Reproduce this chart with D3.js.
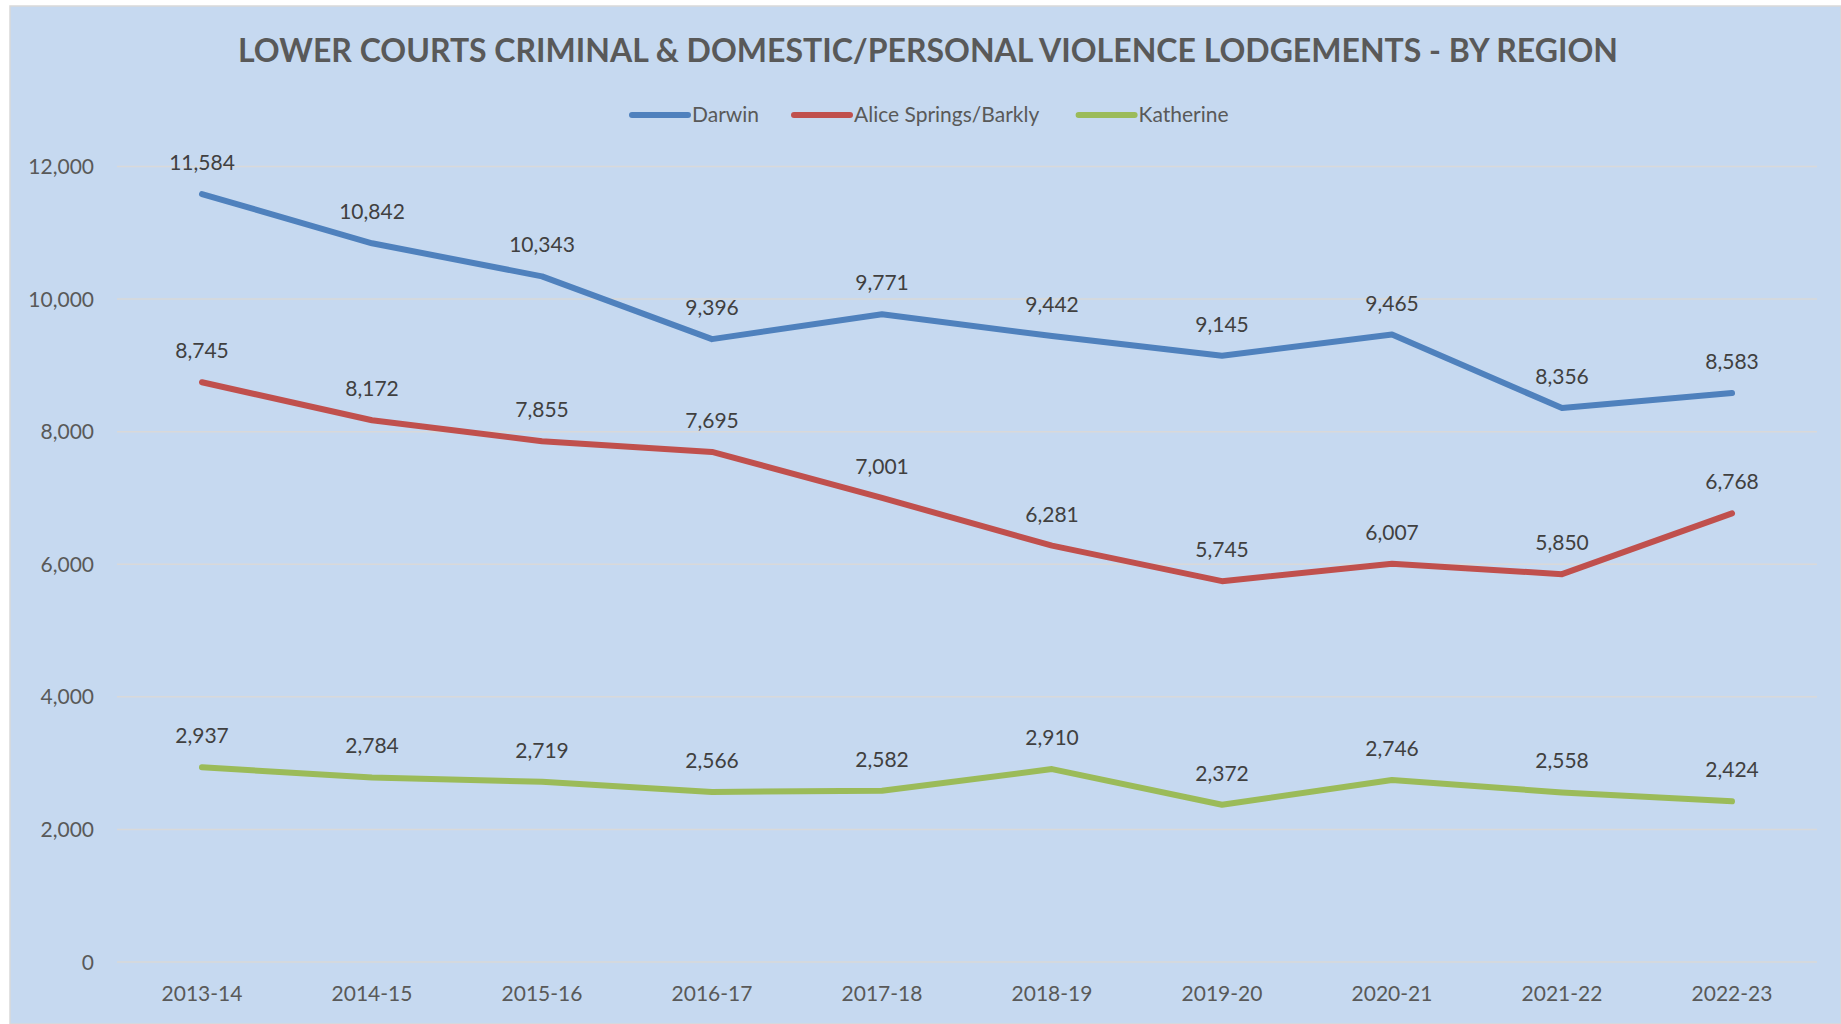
<!DOCTYPE html>
<html lang="en">
<head>
<meta charset="UTF-8">
<title>Lower courts lodgements by region</title>
<script src="https://d3js.org/d3.v7.min.js"></script>
<style>
body { margin: 0; background: #ffffff; }
text { font-family: Lato, "Open Sans", sans-serif; }
.grid line { stroke: #d9d9d9; stroke-width: 1.5px; }
.ylab, .xlab { font-size: 21px; fill: #595959; }
.dlab { font-size: 21px; fill: #404040; text-anchor: middle; }
.line { fill: none; stroke-width: 6px; stroke-linecap: round; stroke-linejoin: round; }
</style>
</head>
<body>
<div id="chart"></div>
<script>
// data
var years = ["2013-14","2014-15","2015-16","2016-17","2017-18","2018-19","2019-20","2020-21","2021-22","2022-23"];
var darwin = [11584,10842,10343,9396,9771,9442,9145,9465,8356,8583];
var alice = [8745,8172,7855,7695,7001,6281,5745,6007,5850,6768];
var katherine = [2937,2784,2719,2566,2582,2910,2372,2746,2558,2424];
var seriesNames = ["Darwin","Alice Springs/Barkly","Katherine"];
var yTicks = [0,2000,4000,6000,8000,10000,12000];

var colors = ["#4f81bd","#c0504d","#9bbb59"];
var width = 1841, height = 1024;

var svg = d3.select("#chart").append("svg")
    .attr("width", width)
    .attr("height", height);

// panel
svg.append("rect")
    .attr("x", 10).attr("y", 6)
    .attr("width", width - 10).attr("height", height - 6)
    .attr("fill", "#c6d9f0")
    .attr("stroke", "#d9d9d9").attr("stroke-width", 1.5);

var plot = {left: 117, right: 1817, top: 166.5, bottom: 962};

var x = d3.scaleBand().domain(years).range([plot.left, plot.right]);
var y = d3.scaleLinear().domain([0, 12000]).range([plot.bottom, plot.top]);
function cx(d) { return x(d) + x.bandwidth() / 2; }

// gridlines
svg.append("g").attr("class", "grid")
    .selectAll("line").data(yTicks).enter().append("line")
    .attr("x1", plot.left).attr("x2", plot.right)
    .attr("y1", function(d) { return y(d); })
    .attr("y2", function(d) { return y(d); });

// y labels
svg.append("g").selectAll("text").data(yTicks).enter().append("text")
    .attr("class", "ylab")
    .attr("x", 94)
    .attr("y", function(d) { return y(d) + 7.5; })
    .attr("text-anchor", "end")
    .text(d3.format(","));

// x labels
svg.append("g").selectAll("text").data(years).enter().append("text")
    .attr("class", "xlab")
    .attr("x", cx)
    .attr("y", 1001)
    .attr("text-anchor", "middle")
    .text(function(d) { return d; });

var series = [darwin, alice, katherine];

var line = d3.line()
    .x(function(d, i) { return cx(years[i]); })
    .y(function(d) { return y(d); });

svg.selectAll("path.line").data(series).enter().append("path")
    .attr("class", "line")
    .attr("stroke", function(d, i) { return colors[i]; })
    .attr("d", line);

// data labels
series.forEach(function(s) {
    svg.append("g").selectAll("text").data(s).enter().append("text")
        .attr("class", "dlab")
        .attr("x", function(d, i) { return cx(years[i]); })
        .attr("y", function(d) { return y(d) - 24; })
        .text(d3.format(","));
});

// title
svg.append("text")
    .attr("x", 928).attr("y", 62)
    .attr("text-anchor", "middle")
    .style("font-size", "32px")
    .style("font-weight", "bold")
    .style("fill", "#595959")
    .text("LOWER COURTS CRIMINAL & DOMESTIC/PERSONAL VIOLENCE LODGEMENTS - BY REGION");

// legend
var legendX = [632, 794, 1078.6];
var leg = svg.append("g").selectAll("g").data(seriesNames).enter().append("g")
    .attr("transform", function(d, i) { return "translate(" + legendX[i] + ",115)"; });
leg.append("line")
    .attr("x1", 0).attr("x2", 56).attr("y1", 0).attr("y2", 0)
    .attr("stroke", function(d, i) { return colors[i]; })
    .attr("stroke-width", 6).attr("stroke-linecap", "round");
leg.append("text")
    .attr("x", 60).attr("y", 7)
    .style("font-size", "21px").style("fill", "#595959")
    .text(function(d) { return d; });
</script>
</body>
</html>
